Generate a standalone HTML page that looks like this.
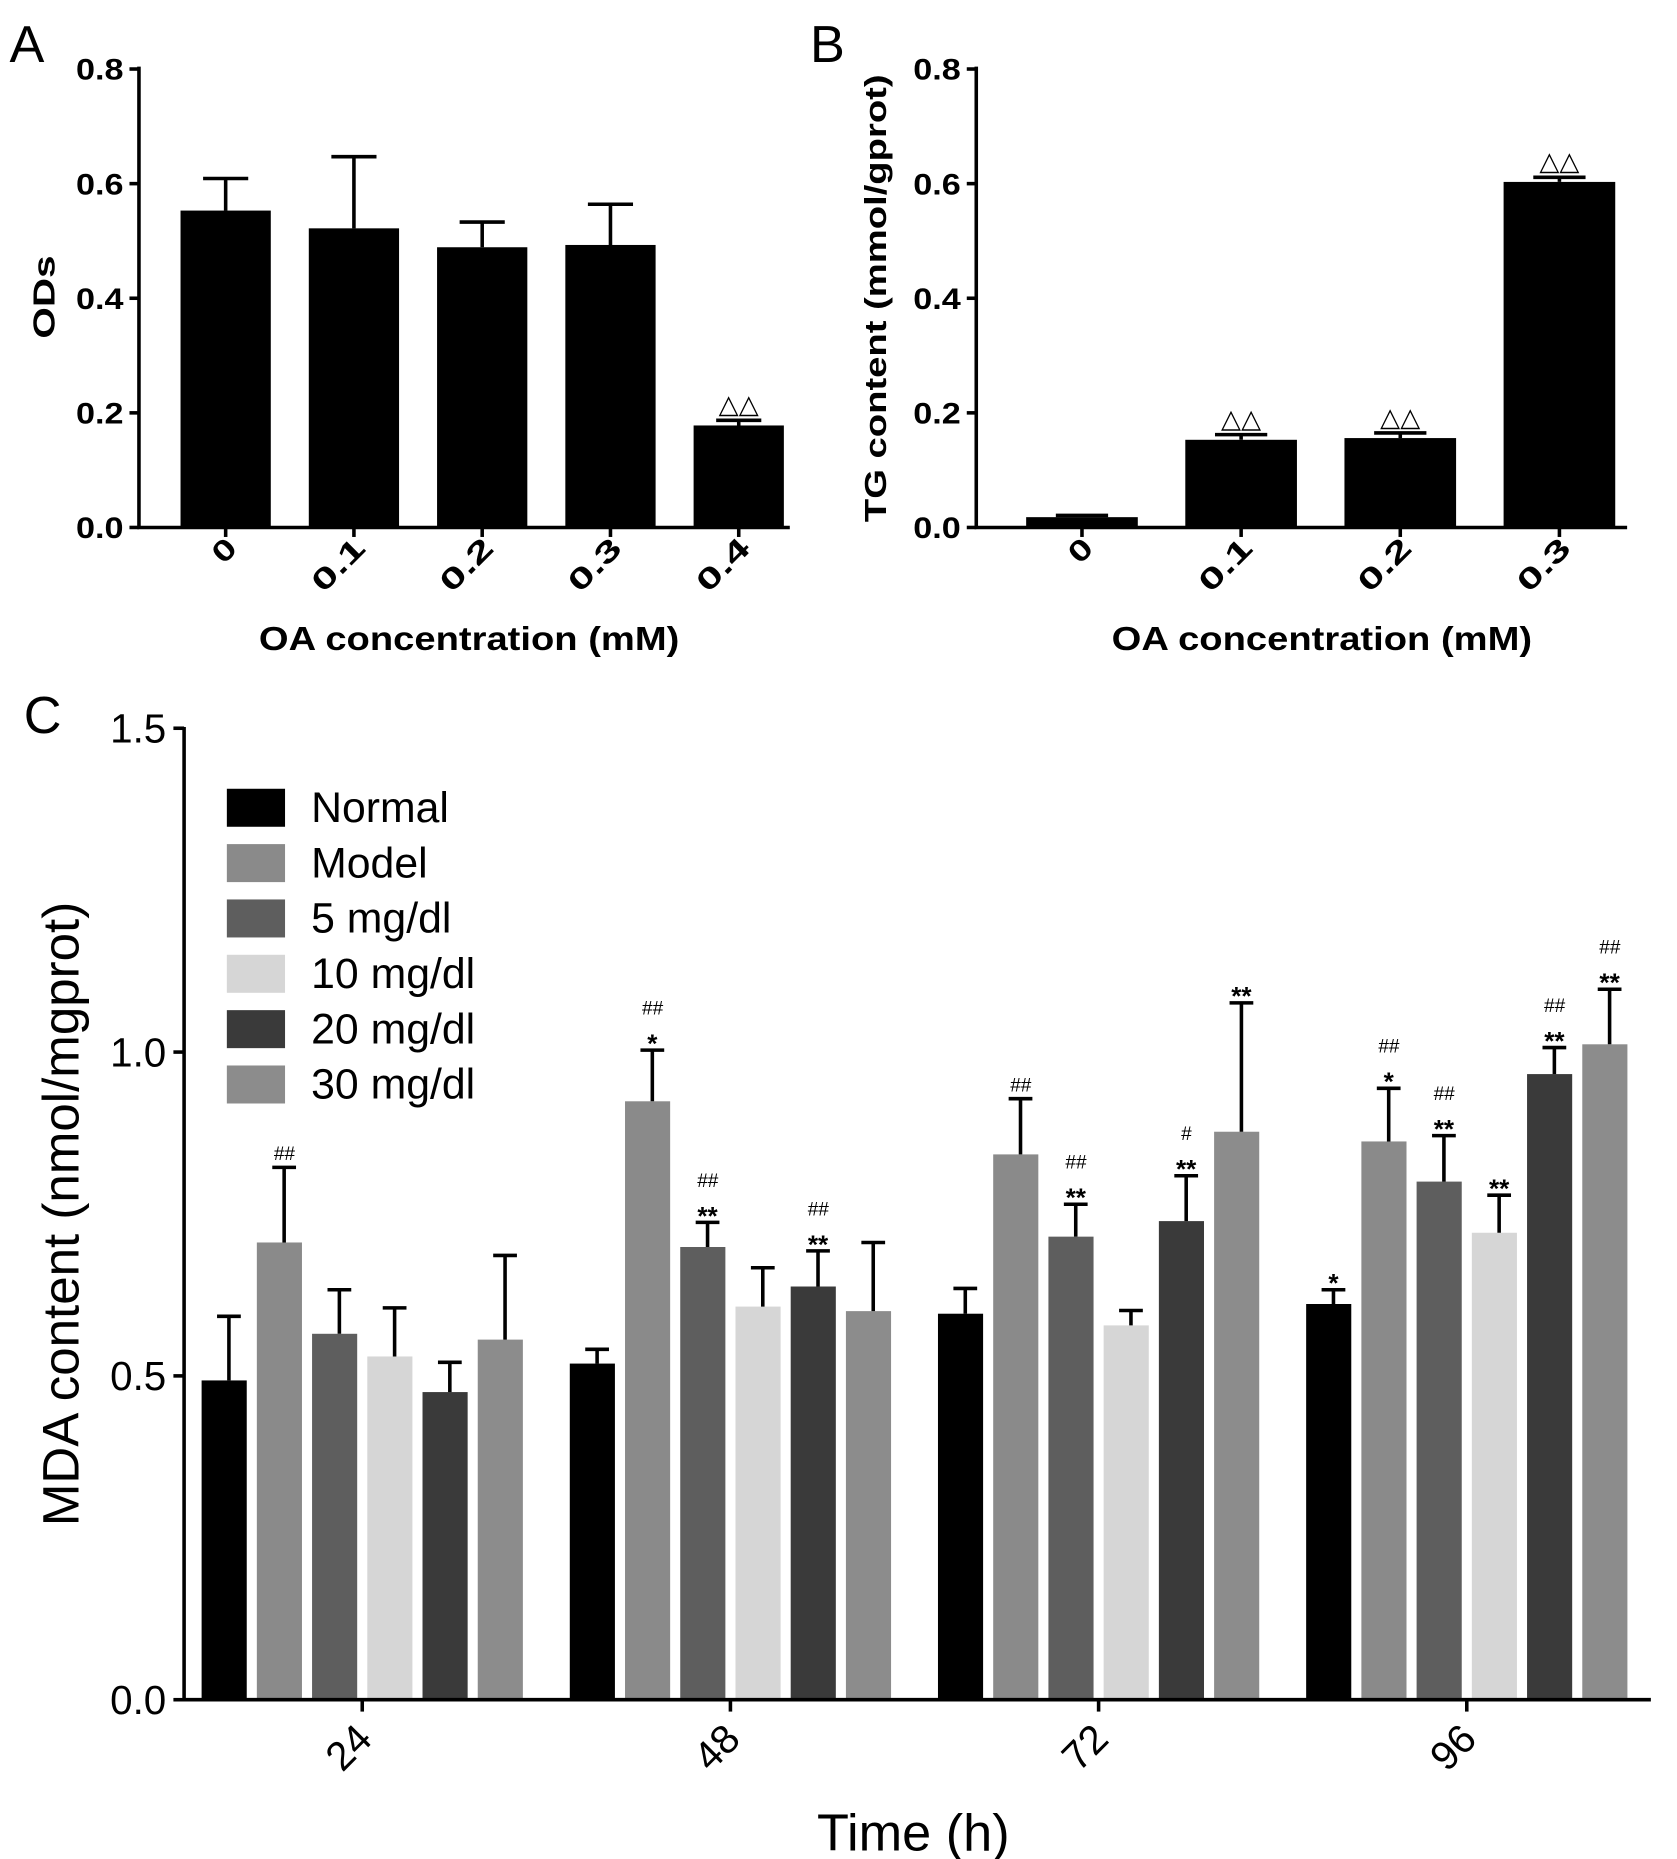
<!DOCTYPE html>
<html><head><meta charset="utf-8"><style>
html,body{margin:0;padding:0;background:#fff}
svg{display:block}
text{font-family:"Liberation Sans",Arial,sans-serif}
</style></head><body>
<svg id="fig" width="1677" height="1859" viewBox="0 0 1412 1565" xmlns="http://www.w3.org/2000/svg"></svg>
<script>
// Panel A data
const aCats = ["0","0.1","0.2","0.3","0.4"];
const aVals = [0.553,0.522,0.489,0.493,0.178];
const aErr = [0.609,0.647,0.533,0.564,0.187];
const aMarks = ["","","","","△△"];
const aTicks = [0,0.2,0.4,0.6,0.8];
// Panel B data
const bCats = ["0","0.1","0.2","0.3"];
const bVals = [0.018,0.153,0.156,0.603];
const bErr = [0.021,0.162,0.165,0.611];
const bMarks = ["","△△","△△","△△"];
const bTicks = [0,0.2,0.4,0.6,0.8];
// Panel C data
const cGroups = ["24","48","72","96"];
const cSeries = ["Normal","Model","5 mg/dl","10 mg/dl","20 mg/dl","30 mg/dl"];
const cNormal = [0.493,0.519,0.596,0.611];
const cModel = [0.706,0.924,0.842,0.862];
const c5 = [0.565,0.699,0.715,0.800];
const c10 = [0.530,0.607,0.578,0.721];
const c20 = [0.475,0.638,0.739,0.966];
const c30 = [0.556,0.600,0.877,1.012];
const cNormalErr = [0.592,0.541,0.635,0.633];
const cModelErr = [0.822,1.003,0.928,0.944];
const c5Err = [0.633,0.737,0.765,0.871];
const c10Err = [0.605,0.667,0.601,0.779];
const c20Err = [0.521,0.693,0.809,1.007];
const c30Err = [0.686,0.706,1.076,1.097];
const cHash = [["","##","","","",""],["","##","##","","##",""],["","##","##","","#",""],["","##","##","","##","##"]];
const cStar = [["","","","","",""],["","*","**","","**",""],["","","**","","**","**"],["*","*","**","**","**","**"]];
const cTicks = [0,0.5,1.0,1.5];

const svg=document.getElementById('fig');
const NS="http://www.w3.org/2000/svg";
function el(tag,attrs,txt){const e=document.createElementNS(NS,tag);for(const k in attrs)e.setAttribute(k,attrs[k]);if(txt!==undefined)e.textContent=txt;svg.appendChild(e);return e;}
const SA='spacingAndGlyphs';

// ---------- Panel A ----------
function yA(v){return 444-v*482.5;}
function xA(i){return 190+i*108;}
let t;
t=el('text',{x:8,y:52,'font-size':44},'A');

aCats.forEach((c,i)=>{
  const x=xA(i),w=76;
  let r=el('rect',{x:x-w/2,y:yA(aVals[i]),width:w,height:yA(0)-yA(aVals[i]),fill:'#000'});
  
  let l=el('path',{d:`M${x} ${yA(aVals[i])}V${yA(aErr[i])}M${x-19} ${yA(aErr[i])}H${x+19}`,stroke:'#000','stroke-width':3,fill:'none'});
  
  if(aMarks[i]){let m=el('text',{x:x,y:yA(aErr[i])-6,'font-size':22,'text-anchor':'middle'},aMarks[i]);}
  let tl=el('text',{x:0,y:0,'font-size':25,'font-weight':'bold','text-anchor':'end',textLength:c.length>1?52:18,lengthAdjust:SA,transform:`translate(${x+11},${463}) rotate(-45)`},c);
  
});
let ax=el('path',{d:`M117 56V444H665`,stroke:'#000','stroke-width':3,fill:'none'});

aTicks.forEach(v=>{
  el('path',{d:`M109 ${yA(v)}H117`,stroke:'#000','stroke-width':3});
  let tl=el('text',{x:104,y:yA(v)+9,'font-size':25,'font-weight':'bold','text-anchor':'end',textLength:40,lengthAdjust:SA},v.toFixed(1));
  
});
aCats.forEach((c,i)=>el('path',{d:`M${xA(i)} 444V452`,stroke:'#000','stroke-width':3}));
t=el('text',{x:395,y:547,'font-size':28,'font-weight':'bold','text-anchor':'middle',textLength:354,lengthAdjust:SA},'OA concentration (mM)');

t=el('text',{x:0,y:0,'font-size':26,'font-weight':'bold','text-anchor':'middle',textLength:70,lengthAdjust:SA,transform:'translate(46,250) rotate(-90)'},'ODs');


// ---------- Panel B ----------
function yB(v){return 444-v*482.5;}
function xB(i){return 911+i*134;}
t=el('text',{x:682,y:52,'font-size':44},'B');

bCats.forEach((c,i)=>{
  const x=xB(i),w=94;
  let r=el('rect',{x:x-w/2,y:yB(bVals[i]),width:w,height:yB(0)-yB(bVals[i]),fill:'#000'});
  
  let l=el('path',{d:`M${x} ${yB(bVals[i])}V${yB(bErr[i])}M${x-22} ${yB(bErr[i])}H${x+22}`,stroke:'#000','stroke-width':3,fill:'none'});
  
  if(bMarks[i]){let m=el('text',{x:x,y:yB(bErr[i])-6,'font-size':22,'text-anchor':'middle'},bMarks[i]);}
  let tl=el('text',{x:0,y:0,'font-size':25,'font-weight':'bold','text-anchor':'end',textLength:c.length>1?52:18,lengthAdjust:SA,transform:`translate(${x+11},${463}) rotate(-45)`},c);
  
});
ax=el('path',{d:`M822 56V444H1370`,stroke:'#000','stroke-width':3,fill:'none'});

bTicks.forEach(v=>{
  el('path',{d:`M814 ${yB(v)}H822`,stroke:'#000','stroke-width':3});
  let tl=el('text',{x:809,y:yB(v)+9,'font-size':25,'font-weight':'bold','text-anchor':'end',textLength:40,lengthAdjust:SA},v.toFixed(1));
  
});
bCats.forEach((c,i)=>el('path',{d:`M${xB(i)} 444V452`,stroke:'#000','stroke-width':3}));
t=el('text',{x:1113,y:547,'font-size':28,'font-weight':'bold','text-anchor':'middle',textLength:354,lengthAdjust:SA},'OA concentration (mM)');

t=el('text',{x:0,y:0,'font-size':26,'font-weight':'bold','text-anchor':'middle',textLength:377,lengthAdjust:SA,transform:'translate(746,251) rotate(-90)'},'TG content (mmol/gprot)');


// ---------- Panel C ----------
function yC(v){return 1431-v*545.3;}
function xC(g,s){return 305+g*310+(s-2.5)*46.5;}
const cVals=[cNormal,cModel,c5,c10,c20,c30];
const cErrs=[cNormalErr,cModelErr,c5Err,c10Err,c20Err,c30Err];
const cColors=['#000','#8a8a8a','#5e5e5e','#d6d6d6','#3a3a3a','#8c8c8c'];
t=el('text',{x:20,y:617,'font-size':44},'C');

cGroups.forEach((g,gi)=>{
  cSeries.forEach((s,si)=>{
    const x=xC(gi,si),w=38,v=cVals[si][gi],e=cErrs[si][gi];
    let r=el('rect',{x:x-w/2,y:yC(v),width:w,height:yC(0)-yC(v),fill:cColors[si]});
    
    let l=el('path',{d:`M${x+4} ${yC(v)}V${yC(e)}M${x-6} ${yC(e)}H${x+14}`,stroke:'#000','stroke-width':3,fill:'none'});
    
    let ty=yC(e)-6;
    if(cStar[gi][si]){let m=el('text',{x:x+4,y:ty+8,'font-size':22,'font-weight':'bold','text-anchor':'middle'},cStar[gi][si]);ty-=24;}
    if(cHash[gi][si]){let m=el('text',{x:x+4,y:ty,'font-size':16,'font-style':'italic','text-anchor':'middle','font-family':'Liberation Serif, serif'},cHash[gi][si]);}
  });
  const gx=305+gi*310;
  el('path',{d:`M${gx} 1431V1441`,stroke:'#000','stroke-width':3});
  let tl=el('text',{x:0,y:0,'font-size':34,'text-anchor':'end',transform:`translate(${gx+10},${1466}) rotate(-45)`},g);
  
});
ax=el('path',{d:`M155 612V1431H1390`,stroke:'#000','stroke-width':3,fill:'none'});

cTicks.forEach(v=>{
  el('path',{d:`M146 ${yC(v)}H155`,stroke:'#000','stroke-width':3});
  let tl=el('text',{x:140,y:yC(v)+12,'font-size':34,'text-anchor':'end'},v.toFixed(1));
  
});
t=el('text',{x:769,y:1558,'font-size':44,'text-anchor':'middle'},'Time (h)');

t=el('text',{x:0,y:0,'font-size':43,'text-anchor':'middle',transform:'translate(66,1022) rotate(-90)'},'MDA content (nmol/mgprot)');

cSeries.forEach((s,si)=>{
  const cy=680+si*46.6;
  let r=el('rect',{x:191,y:cy-16,width:49,height:32,fill:cColors[si]});
  
  let tx=el('text',{x:262,y:cy+12,'font-size':36},s);
  
});
</script>
</body></html>
